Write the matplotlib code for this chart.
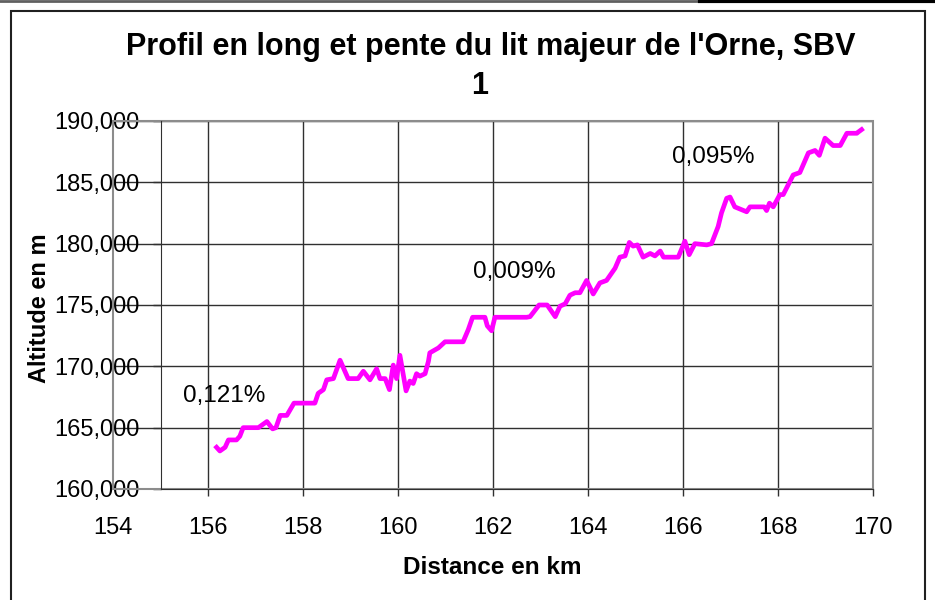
import matplotlib
matplotlib.use("Agg")
import matplotlib.pyplot as plt
from matplotlib.lines import Line2D
from matplotlib.patches import Rectangle
from matplotlib.ticker import FuncFormatter

plt.rcParams['font.family'] = ['Liberation Sans', 'DejaVu Sans']

# distance along the river (km) and altitude of the floodplain (m)
distance_km = [
    156.18, 156.25, 156.36, 156.43, 156.60, 156.67, 156.74, 157.06, 157.24, 157.36,
    157.43, 157.52, 157.66, 157.81, 158.25, 158.32, 158.43, 158.50, 158.64, 158.78,
    158.95, 159.16, 159.27, 159.41, 159.55, 159.62, 159.73, 159.82, 159.90, 159.97,
    160.04, 160.17, 160.25, 160.32, 160.39, 160.46, 160.57, 160.64, 160.67, 160.85,
    160.99, 161.37, 161.48, 161.57, 161.83, 161.88, 161.97, 162.04, 162.71, 162.78,
    162.97, 163.14, 163.31, 163.41, 163.52, 163.62, 163.73, 163.83, 163.97, 164.11,
    164.25, 164.39, 164.57, 164.67, 164.78, 164.87, 164.95, 165.04, 165.16, 165.31,
    165.41, 165.52, 165.59, 165.90, 166.04, 166.13, 166.25, 166.50, 166.60, 166.74,
    166.81, 166.92, 166.99, 167.09, 167.34, 167.41, 167.71, 167.76, 167.82, 167.90,
    168.04, 168.11, 168.32, 168.46, 168.64, 168.78, 168.87, 168.99, 169.16, 169.31,
    169.45, 169.66, 169.69, 169.76,
]
altitude_m = [
    163.4, 163.1, 163.4, 164.0, 164.0, 164.3, 165.0, 165.0, 165.5, 164.9,
    165.0, 166.0, 166.0, 167.0, 167.0, 167.8, 168.1, 168.9, 169.0, 170.5,
    169.0, 169.0, 169.6, 168.9, 169.8, 169.0, 169.0, 168.1, 170.1, 169.0,
    170.9, 168.0, 168.8, 168.6, 169.4, 169.2, 169.4, 170.4, 171.1, 171.5,
    172.0, 172.0, 173.0, 174.0, 174.0, 173.3, 172.9, 174.0, 174.0, 174.05,
    175.0, 175.0, 174.05, 174.9, 175.1, 175.8, 176.0, 176.0, 177.0, 175.9,
    176.8, 177.0, 178.0, 178.9, 179.0, 180.1, 179.8, 179.9, 178.9, 179.2,
    179.0, 179.4, 178.9, 178.9, 180.2, 179.1, 180.0, 179.9, 180.0, 181.4,
    182.5, 183.7, 183.8, 183.0, 182.6, 183.0, 183.0, 182.7, 183.3, 183.0,
    184.0, 184.0, 185.6, 185.8, 187.4, 187.6, 187.2, 188.6, 188.0, 188.0,
    189.0, 189.0, 189.1, 189.3,
]

# slope labels (text, km, altitude)
slope_labels = ["0,121%", "0,009%", "0,095%"]
slope_x = [155.47, 161.58, 165.77]
slope_y = [167.6, 177.7, 187.1]

x_ticks = [154, 156, 158, 160, 162, 164, 166, 168, 170]
y_ticks = [160, 165, 170, 175, 180, 185, 190]

fig = plt.figure(figsize=(9.35, 6), dpi=100)
ax = fig.add_axes([113/935, 1-489/600, 760/935, 368/600])

ax.plot(distance_km, altitude_m, color='#FF00FF', linewidth=3.4, solid_joinstyle='round', zorder=5)

for t, xx, yy in zip(slope_labels, slope_x, slope_y):
    ax.text(xx, yy, t, fontsize=17.5, ha='left', va='center', zorder=6)

ax.set_xlim(154, 170)
ax.set_ylim(160, 190)
ax.set_xticks(x_ticks)
ax.set_yticks(y_ticks)
ax.yaxis.set_major_formatter(FuncFormatter(lambda v, p: f"{v:.3f}".replace('.', ',')))

# grid
ax.grid(True, color='#303030', linewidth=1.0)
ax.set_axisbelow(True)
first = ax.xaxis.get_major_ticks()[0]
first.tick1line.set_visible(False)
first.gridline.set_visible(False)

# axes: y axis crosses at 155, grey plot-area border
for s in ['top', 'right']:
    ax.spines[s].set_visible(False)
ax.spines['left'].set_position(('data', 155))
ax.spines['left'].set_color('#303030')
ax.spines['bottom'].set_color('#303030')
ax.spines['bottom'].set_bounds(155, 170)
ax.add_patch(Rectangle((0, 0), 1, 1, transform=ax.transAxes, fill=False,
                       edgecolor='#8c8c8c', linewidth=1.5, zorder=1, clip_on=False))

ax.tick_params(axis='x', direction='out', length=5, width=1, color='#303030',
               labelsize=17, pad=15)
ax.tick_params(axis='y', direction='out', length=6, width=1, color='#303030',
               labelsize=17, pad=9)

fig.text(491/935, 1-47/600, "Profil en long et pente du lit majeur de l'Orne, SBV",
         ha='center', va='center', fontsize=22, fontweight='bold')
fig.text(480/935, 1-86/600, "1",
         ha='center', va='center', fontsize=22, fontweight='bold')
fig.text(492/935, 1-568/600, "Distance en km", ha='center', va='center',
         fontsize=17.5, fontweight='bold')
fig.text(40/935, 1-308/600, "Altitude en m", ha='center', va='center',
         rotation=90, fontsize=17, fontweight='bold')

# chart frame and page rule above
fig.add_artist(Rectangle((11/935, -0.1), 914/935, 1.1 - 11/600, transform=fig.transFigure,
                         fill=False, edgecolor='#202020', linewidth=1.5))
fig.add_artist(Line2D([0, 700/935], [1-1/600, 1-1/600], transform=fig.transFigure,
                      color='#606060', linewidth=2))
fig.add_artist(Line2D([700/935, 1], [1-1/600, 1-1/600], transform=fig.transFigure,
                      color='black', linewidth=3))

fig.savefig("out.png", dpi=100)
